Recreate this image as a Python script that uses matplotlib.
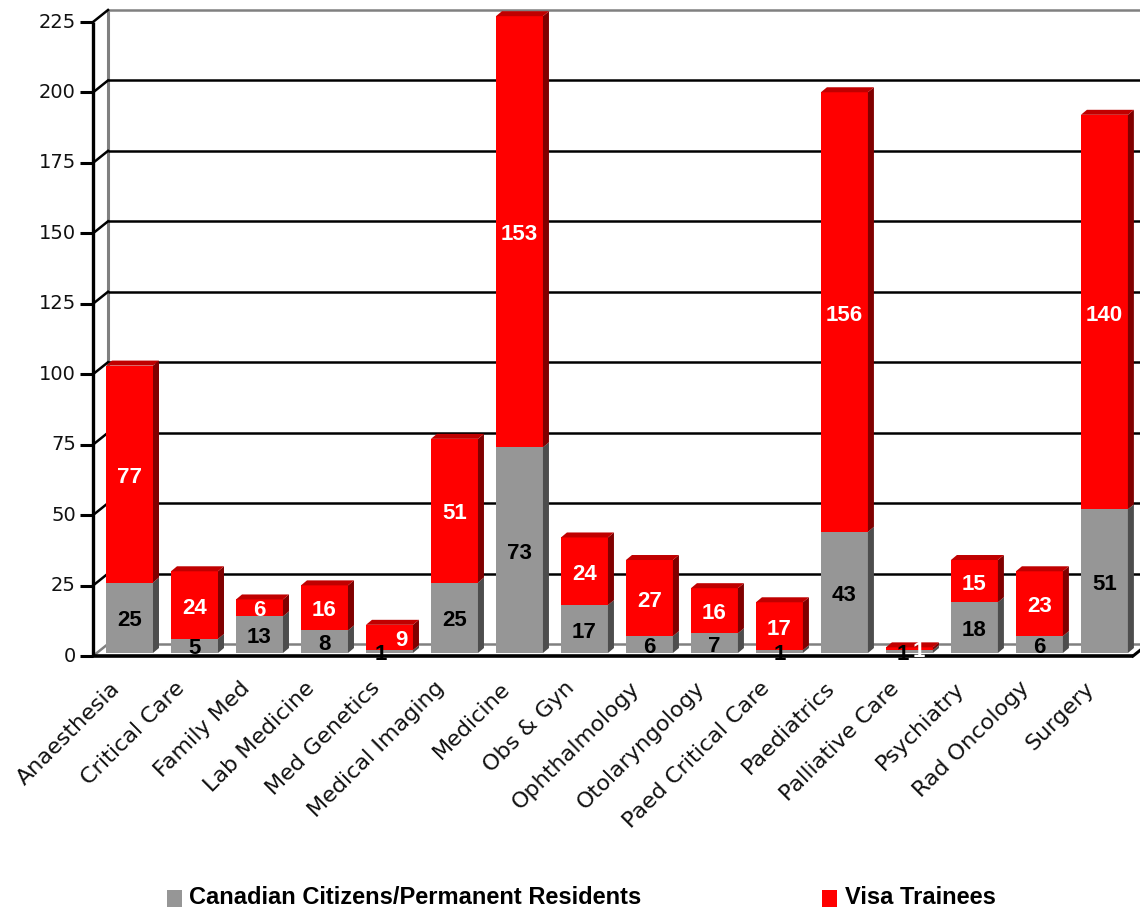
import matplotlib
matplotlib.use('Agg')
import matplotlib.pyplot as plt
from matplotlib.patches import Polygon, Rectangle
import matplotlib.transforms as mtransforms

categories = ['Anaesthesia', 'Critical Care', 'Family Med', 'Lab Medicine', 'Med Genetics',
              'Medical Imaging', 'Medicine', 'Obs & Gyn', 'Ophthalmology', 'Otolaryngology',
              'Paed Critical Care', 'Paediatrics', 'Palliative Care', 'Psychiatry',
              'Rad Oncology', 'Surgery']
canadian = [25, 5, 13, 8, 1, 25, 73, 17, 6, 7, 1, 43, 1, 18, 6, 51]
visa = [77, 24, 6, 16, 9, 51, 153, 24, 27, 16, 17, 156, 1, 15, 23, 140]
y_ticks = [0, 25, 50, 75, 100, 125, 150, 175, 200, 225]
series_names = ['Canadian Citizens/Permanent Residents', 'Visa Trainees']

# label nudges (pixels) for crowded tiny segments
label_dx_gray = {4: -9, 12: -7}
label_dx_red = {4: 12, 12: 9}

W, H = 1140, 909
DPI = 100
fig = plt.figure(figsize=(W / DPI, H / DPI), dpi=DPI)

# front plane of the 3-D box in pixels
X0, X1 = 93, 1133
Y0, Y1 = 656, 22
ax = fig.add_axes([X0 / W, (H - Y0) / H, (X1 - X0) / W, (Y0 - Y1) / H])
xmin, xmax = -0.5615, 15.44
ax.set_xlim(xmin, xmax)
ax.set_ylim(0, 225)
ax.axis('off')

pxx = (X1 - X0) / (xmax - xmin)   # px per x unit
pxy = (Y0 - Y1) / 225.0           # px per y unit


def dxd(px):
    return px / pxx


def dyd(px):
    return px / pxy


# wall depth
WDX, WDY = dxd(15), dyd(12)
xright = xmin + dxd(W - X0 + 10)

# back wall vertical edge and top edge
ax.plot([xmin + WDX, xmin + WDX], [WDY, 225 + WDY], color='#808080', lw=2.2,
        clip_on=False, zorder=1, solid_capstyle='butt')
for v in y_ticks:
    col = '#808080' if v in (0, 225) else 'black'
    ax.plot([xmin + WDX, xright], [v + WDY, v + WDY], color=col, lw=1.8,
            clip_on=False, zorder=1, solid_capstyle='butt')
    dcol = '#808080' if v == 0 else 'black'
    ax.plot([xmin, xmin + WDX], [v, v + WDY], color=dcol, lw=1.8,
            clip_on=False, zorder=1)

# front axis, ticks, baseline
ax.plot([xmin, xmin], [0, 225], color='black', lw=2.4, clip_on=False, zorder=5,
        solid_capstyle='butt')
for v in y_ticks:
    ax.plot([xmin - dxd(13), xmin], [v, v], color='black', lw=2.2, clip_on=False,
            zorder=5, solid_capstyle='butt')
    ax.text(xmin - dxd(17), v, str(v), ha='right', va='center', fontsize=14,
            family='DejaVu Sans', color='#111111')
ax.plot([xmin, xmax], [0, 0], color='black', lw=2.6, clip_on=False, zorder=5,
        solid_capstyle='butt')
ax.plot([xmax, xmax + WDX], [0, WDY], color='black', lw=2.2, clip_on=False, zorder=5)

# bars
bar_off = mtransforms.ScaledTranslation(0, 3 / DPI, fig.dpi_scale_trans)
btrans = ax.transData + bar_off
lab_off = mtransforms.ScaledTranslation(0, 0, fig.dpi_scale_trans)
ltrans = ax.transData + lab_off
BW = dxd(47)
BDX, BDY = dxd(6), dyd(5)

gray_front, gray_side, gray_top = '#969696', '#4d4d4d', '#777777'
red_front, red_side, red_top = '#ff0000', '#800000', '#c00000'

xs = list(range(len(categories)))
ax.bar(xs, canadian, width=BW, color=gray_front, transform=btrans, zorder=3,
       linewidth=0, clip_on=False)
ax.bar(xs, visa, width=BW, bottom=canadian, color=red_front, transform=btrans,
       zorder=3, linewidth=0, clip_on=False)

for i in xs:
    r = i + BW / 2
    l = i - BW / 2
    g = canadian[i]
    t = canadian[i] + visa[i]
    ax.add_patch(Polygon([(r, 0), (r, g), (r + BDX, g + BDY), (r + BDX, BDY)],
                         closed=True, facecolor=gray_side, lw=0, transform=btrans,
                         zorder=3, clip_on=False))
    ax.add_patch(Polygon([(r, g), (r, t), (r + BDX, t + BDY), (r + BDX, g + BDY)],
                         closed=True, facecolor=red_side, lw=0, transform=btrans,
                         zorder=3, clip_on=False))
    ax.add_patch(Polygon([(l, t), (r, t), (r + BDX, t + BDY), (l + BDX, t + BDY)],
                         closed=True, facecolor=red_top, lw=0, transform=btrans,
                         zorder=3, clip_on=False))
    # labels
    ax.text(i + dxd(label_dx_gray.get(i, 0)), g / 2, str(g), ha='center', va='center',
            fontsize=16, fontweight='bold', family='Liberation Sans', color='black',
            transform=ltrans, zorder=6)
    ax.text(i + dxd(label_dx_red.get(i, 0)), g + visa[i] / 2, str(visa[i]), ha='center',
            va='center', fontsize=16, fontweight='bold', family='Liberation Sans',
            color='white', transform=ltrans, zorder=6)
    # category labels
    ax.text(i - dxd(20), -dyd(22), categories[i], rotation=45, ha='right', va='top',
            rotation_mode='anchor', fontsize=16, family='DejaVu Sans', color='#111111')

# legend
fig.add_artist(Rectangle((167 / W, (H - 907) / H), 15 / W, 17 / H,
                         transform=fig.transFigure, facecolor=gray_front, lw=0))
fig.add_artist(Rectangle((822 / W, (H - 907) / H), 15 / W, 17 / H,
                         transform=fig.transFigure, facecolor=red_front, lw=0))
fig.text(189 / W, (H - 898) / H, series_names[0], ha='left', va='center', fontsize=17,
         fontweight='bold', family='Liberation Sans')
fig.text(845 / W, (H - 898) / H, series_names[1], ha='left', va='center', fontsize=17,
         fontweight='bold', family='Liberation Sans')

fig.savefig('out.png', dpi=DPI)
